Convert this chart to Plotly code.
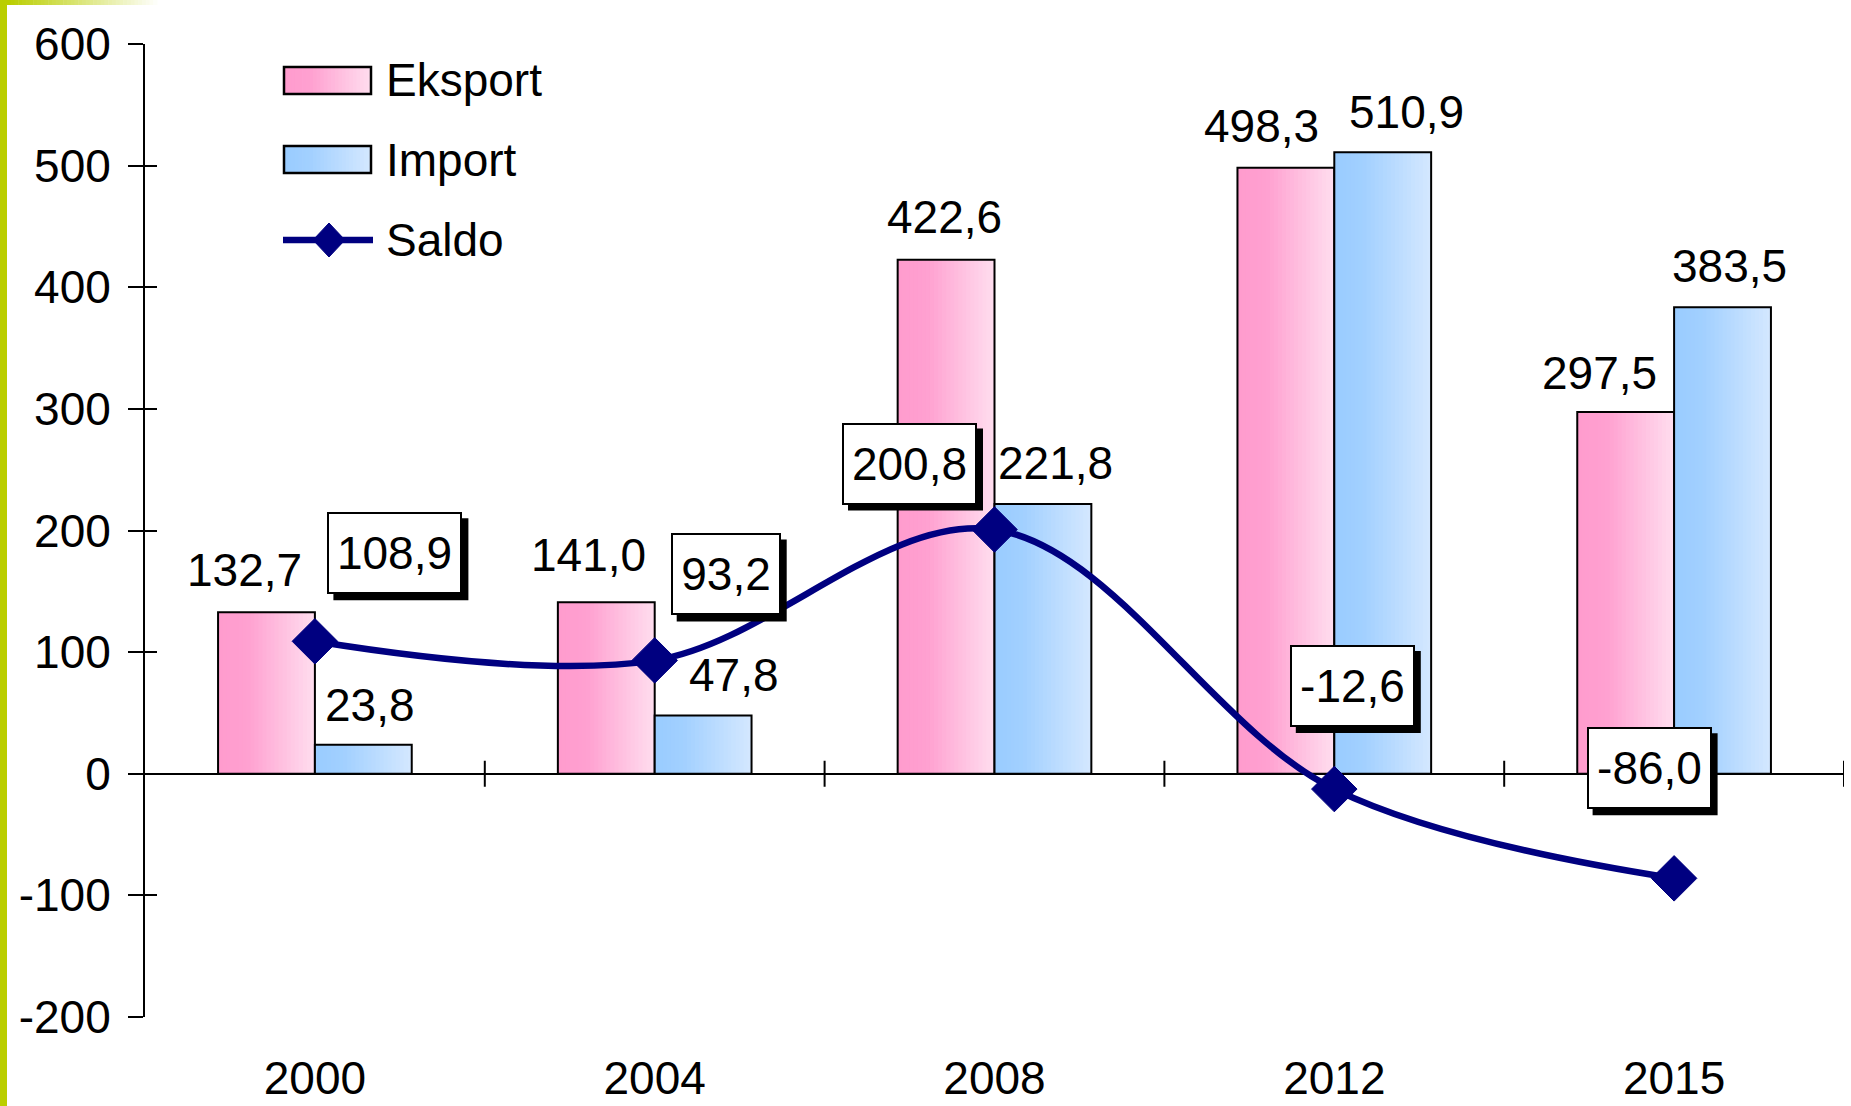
import plotly.graph_objects as go

# ---------------- data ----------------
years = ["2000", "2004", "2008", "2012", "2015"]
eksport = [132.7, 141.0, 422.6, 498.3, 297.5]
import_ = [23.8, 47.8, 221.8, 510.9, 383.5]
saldo = [108.9, 93.2, 200.8, -12.6, -86.0]
y_tickvals = [-200, -100, 0, 100, 200, 300, 400, 500, 600]
y_ticktext = ["-200", "-100", "0", "100", "200", "300", "400", "500", "600"]
series_names = ["Eksport", "Import", "Saldo"]

# ---------------- style / layout constants ----------------
FIG_W, FIG_H = 1851, 1106
L, R, T, B = 145, 7, 44, 89
PW, PH = FIG_W - L - R, FIG_H - T - B
FONT = "Liberation Sans, Arial, sans-serif"
FS = 46
BAR_W = 0.285
NSTRIP = 24
NAVY = "#000080"
LINE_W = 6.5
GREEN = (186, 206, 0)

PINK_STOPS = [(0.0, (255, 156, 206)), (0.3, (255, 160, 208)), (1.0, (255, 222, 239))]
BLUE_STOPS = [(0.0, (153, 204, 255)), (0.3, (162, 208, 255)), (1.0, (212, 232, 255))]

CHAR_EM = {"-": 0.333, ",": 0.278}


def text_w(s):
    return sum(CHAR_EM.get(ch, 0.556) for ch in s) * FS


def grad(stops, t):
    for (t0, c0), (t1, c1) in zip(stops[:-1], stops[1:]):
        if t0 <= t <= t1:
            f = (t - t0) / (t1 - t0) if t1 > t0 else 0
            c = [round(a + (b - a) * f) for a, b in zip(c0, c1)]
            return "rgb(%d,%d,%d)" % tuple(c)
    return "rgb(%d,%d,%d)" % stops[-1][1]


def px_x(x):
    return (x - L) / PW


def px_y(y):
    return (FIG_H - B - y) / PH


def fmt(v):
    return ("%.1f" % v).replace(".", ",")


fig = go.Figure()

# gradient bars (strips) + outline
for vals, base_off, stops in [(eksport, -BAR_W, PINK_STOPS), (import_, 0.0, BLUE_STOPS)]:
    sw = BAR_W / NSTRIP
    for k in range(NSTRIP):
        t = (k + 0.5) / NSTRIP
        w = sw * 1.6 if k < NSTRIP - 1 else sw
        fig.add_trace(go.Bar(
            x=years, y=vals, width=[w] * len(years), offset=base_off + k * sw,
            marker=dict(color=grad(stops, t), line=dict(width=0)),
            showlegend=False, hoverinfo="skip"))
    fig.add_trace(go.Bar(
        x=years, y=vals, width=[BAR_W] * len(years), offset=base_off,
        marker=dict(color="rgba(0,0,0,0)", line=dict(color="black", width=2)),
        showlegend=False, hoverinfo="skip"))

# saldo line
fig.add_trace(go.Scatter(
    x=years, y=saldo, mode="lines+markers",
    line=dict(color=NAVY, width=LINE_W, shape="spline", smoothing=1),
    marker=dict(symbol="diamond", size=35, color=NAVY, line=dict(color=NAVY, width=1)),
    showlegend=False, yaxis="y"))

annotations = []
shapes = []

# bar value labels
bar_label_shift_e = [(-22, 42), (-18, 47), (-2, 43), (-24, 42), (-26, 39)]
bar_label_shift_i = [(7, 40), (31, 41), (13, 41), (24, 40), (7, 41)]
for i, (ve, vi) in enumerate(zip(eksport, import_)):
    for v, xc, (dx, dy) in [(ve, i - BAR_W / 2, bar_label_shift_e[i]),
                             (vi, i + BAR_W / 2, bar_label_shift_i[i])]:
        annotations.append(dict(
            x=xc, y=v, xref="x", yref="y", text=fmt(v), showarrow=False,
            xshift=dx, yshift=dy, font=dict(family=FONT, size=FS, color="black")))

# saldo boxed labels with shadow (shadow drawn as a shape)
saldo_shift = [(80, 88), (71, 86), (-85, 66), (18, 103), (-25, 110)]
SH = 6
BW, BP, BOX_H = 2, 8, 62
for i, v in enumerate(saldo):
    dx, dy = saldo_shift[i]
    tw = round(text_w(fmt(v)))
    ow = tw + 2 * (BW + BP)
    oh = BOX_H + 2 * (BW + BP)
    shapes.append(dict(
        type="rect", xref="x", yref="y", xsizemode="pixel", ysizemode="pixel",
        xanchor=i, yanchor=v,
        x0=dx - ow / 2 + SH, x1=dx + ow / 2 + SH,
        y0=dy - oh / 2 - SH, y1=dy + oh / 2 - SH,
        fillcolor="black", line=dict(width=0), layer="above"))
    annotations.append(dict(
        x=i, y=v, xref="x", yref="y", text=fmt(v), showarrow=False,
        xshift=dx, yshift=dy, bgcolor="white", bordercolor="black",
        width=tw, height=BOX_H, align="center", valign="middle",
        borderwidth=BW, borderpad=BP, font=dict(family=FONT, size=FS, color="black")))

# category boundary ticks crossing the zero line
for j in range(len(years)):
    shapes.append(dict(
        type="line", xref="x", yref="y", x0=j + 0.5, x1=j + 0.5,
        ysizemode="pixel", yanchor=0, y0=-13, y1=13,
        line=dict(color="black", width=2)))

# legend (manual)
def gradient_rect(x0, y0, x1, y1, stops, n=24):
    w = (x1 - x0) / n
    for k in range(n):
        t = (k + 0.5) / n
        shapes.append(dict(
            type="rect", xref="paper", yref="paper",
            x0=px_x(x0 + k * w), x1=px_x(x0 + (k + 1) * w + (0.8 if k < n - 1 else 0)),
            y0=px_y(y1), y1=px_y(y0), line=dict(width=0), fillcolor=grad(stops, t), layer="above"))
    shapes.append(dict(
        type="rect", xref="paper", yref="paper", x0=px_x(x0), x1=px_x(x1),
        y0=px_y(y1), y1=px_y(y0), line=dict(color="black", width=2.5),
        fillcolor="rgba(0,0,0,0)", layer="above"))


leg_y = [80, 160, 240]
gradient_rect(284, 67, 371, 94, PINK_STOPS)
gradient_rect(284, 146, 371, 173, BLUE_STOPS)
shapes.append(dict(type="line", xref="paper", yref="paper", x0=px_x(283), x1=px_x(373),
                   y0=px_y(leg_y[2]), y1=px_y(leg_y[2]), line=dict(color=NAVY, width=LINE_W), layer="above"))
shapes.append(dict(type="path", xref="paper", yref="paper", xsizemode="pixel", ysizemode="pixel",
                   xanchor=px_x(329), yanchor=px_y(leg_y[2]),
                   path="M 0 17 L 16 0 L 0 -17 L -16 0 Z", fillcolor=NAVY,
                   line=dict(color=NAVY, width=1), layer="above"))
for name, yy in zip(series_names, leg_y):
    annotations.append(dict(
        x=px_x(384), y=px_y(yy), xref="paper", yref="paper", text=name, showarrow=False,
        xanchor="left", yanchor="middle", font=dict(family=FONT, size=FS, color="black")))

# decorative left strip and top gradient
shapes.append(dict(type="rect", xref="paper", yref="paper", x0=px_x(0), x1=px_x(7),
                   y0=px_y(FIG_H), y1=px_y(0), line=dict(width=0),
                   fillcolor="rgb(%d,%d,%d)" % GREEN, layer="above"))
NG = 40
for k in range(NG):
    t = k / NG
    c = tuple(round(g + (255 - g) * t) for g in GREEN)
    shapes.append(dict(type="rect", xref="paper", yref="paper",
                       x0=px_x(7 + k * 150 / NG), x1=px_x(7 + (k + 1) * 150 / NG + 0.5),
                       y0=px_y(5), y1=px_y(0), line=dict(width=0),
                       fillcolor="rgb(%d,%d,%d)" % c, layer="above"))

fig.update_layout(
    width=FIG_W, height=FIG_H,
    margin=dict(l=L, r=R, t=T, b=B, pad=0, autoexpand=False),
    paper_bgcolor="white", plot_bgcolor="white",
    barmode="overlay", showlegend=False,
    font=dict(family=FONT, size=FS, color="black"),
    xaxis=dict(type="category", range=[-0.5, len(years) - 0.5], showgrid=False,
               showline=False, zeroline=False, ticks="", ticklabelstandoff=30,
               automargin=False,
               tickfont=dict(family=FONT, size=FS, color="black")),
    yaxis=dict(range=[-200, 600], tickvals=y_tickvals, ticktext=y_ticktext,
               showgrid=False, showline=True, linecolor="black", linewidth=2,
               ticks="outside", ticklen=15, tickwidth=2, tickcolor="black",
               zeroline=True, zerolinecolor="black", zerolinewidth=2,
               ticklabelstandoff=8, automargin=False,
               tickfont=dict(family=FONT, size=FS, color="black")),
    yaxis2=dict(range=[-200, 600], overlaying="y", side="left", tickvals=y_tickvals,
                showticklabels=False, showgrid=False, showline=False, zeroline=False,
                ticks="inside", ticklen=12, tickwidth=2, tickcolor="black", automargin=False),
    annotations=annotations, shapes=shapes,
)
# dummy trace to activate yaxis2
fig.add_trace(go.Scatter(x=[years[0]], y=[None], yaxis="y2", showlegend=False, hoverinfo="skip"))

fig.write_html("out.html", config={"displayModeBar": False},
               post_script="document.body.style.margin='0';document.body.style.overflow='hidden';")
